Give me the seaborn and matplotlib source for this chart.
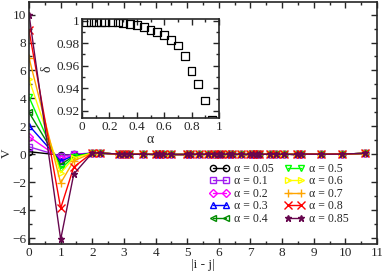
import numpy as np
import pandas as pd
import matplotlib
matplotlib.use("Agg")
import matplotlib.pyplot as plt
from matplotlib.ticker import MultipleLocator
import seaborn as sns

sns.set_style("ticks")
plt.rcParams["font.family"] = ["Liberation Serif", "DejaVu Serif"]

# distances |i - j|
dist = [0, 1, 1.414, 2, 2.236, 2.828, 3, 3.162, 3.606, 4, 4.123, 4.243, 4.472,
        5, 5.099, 5.385, 5.657, 5.831, 6, 6.083, 6.325, 6.403, 6.708, 7, 7.071,
        7.211, 7.28, 7.616, 7.81, 8.062, 8.485, 8.602, 9.22, 9.899, 10.63]

# common tail (|i-j| >= 2.8), all close to zero
tail = [0.03, 0.0, 0.01, 0.02, 0.0, 0.01, 0.02, 0.0, 0.0, 0.01, 0.02, 0.01,
        0.02, 0.0, 0.01, 0.01, 0.02, 0.01, 0.0, 0.0, 0.01, 0.01, 0.02, 0.0,
        0.02, 0.0, 0.03, 0.02, 0.03, 0.08]

alphas = ["0.05", "0.1", "0.2", "0.3", "0.4", "0.5", "0.6", "0.7", "0.8", "0.85"]

v_005 = [0.2, -0.05, 0.0, 0.08, 0.08] + tail
v_01 = [0.55, -0.12, 0.02, 0.1, 0.1] + tail
v_02 = [1.27, -0.3, -0.04, 0.1, 0.1] + tail
v_03 = [2.07, -0.48, -0.08, 0.1, 0.1] + tail
v_04 = [3.0, -0.72, -0.12, 0.1, 0.1] + tail
v_05 = [4.1, -1.03, -0.16, 0.1, 0.1] + tail
v_06 = [5.36, -1.32, -0.25, 0.1, 0.1] + tail
v_07 = [6.9, -2.04, -0.45, 0.1, 0.1] + tail
v_08 = [8.86, -3.84, -0.9, 0.12, 0.1] + tail
v_085 = [10.0, -6.07, -1.4, 0.12, 0.1] + tail
series = [v_005, v_01, v_02, v_03, v_04, v_05, v_06, v_07, v_08, v_085]

colors = ["black", "#a020f0", "#ff00ff", "#0000ff", "#008b00",
          "#00ff00", "#ffff00", "#ffa500", "#ff0000", "#67074e"]
markers = ["o", "s", "D", "^", "<", "v", ">", "+", "x", "*"]

# inset: delta vs alpha
inset_alpha = [0.03, 0.065, 0.1, 0.14, 0.17, 0.22, 0.26, 0.3, 0.35, 0.4, 0.45,
               0.5, 0.55, 0.6, 0.65, 0.7, 0.75, 0.8, 0.85, 0.9, 0.95]
inset_delta = [0.999, 0.999, 0.999, 0.999, 0.999, 0.9988, 0.9985, 0.998, 0.997,
               0.996, 0.9947, 0.992, 0.990, 0.987, 0.983, 0.978, 0.969, 0.955,
               0.944, 0.929, 0.912]

fig = plt.figure(figsize=(3.82, 2.73), dpi=100)
ax = fig.add_axes([0.076, 0.106, 0.911, 0.887])

for a, v, c, m in zip(alphas, series, colors, markers):
    df = pd.DataFrame({"d": dist, "v": v})
    filled = m in ["*"]
    sns.lineplot(
        data=df, x="d", y="v", ax=ax,
        color=c, marker=m, markersize=4.5 if m not in ["+", "x"] else 5.5,
        markerfacecolor=c if filled else "none",
        markeredgecolor=c, markeredgewidth=1.0,
        linewidth=1.0,
        label="α = " + a,
    )

ax.set_xlim(0, 11)
ax.set_ylim(-6.4, 10.9)
ax.xaxis.set_major_locator(MultipleLocator(1))
ax.xaxis.set_minor_locator(MultipleLocator(0.5))
ax.yaxis.set_major_locator(MultipleLocator(2))
ax.yaxis.set_minor_locator(MultipleLocator(1))
ax.tick_params(which="both", direction="in", top=True, right=True,
               labelsize=9.5, pad=2)
ax.tick_params(which="major", length=4, width=1)
ax.tick_params(which="minor", length=2, width=1)
for s in ax.spines.values():
    s.set_linewidth(1.2)
ax.set_xlabel("|i - j|", fontsize=9.5, labelpad=0)
ax.set_ylabel("V", fontsize=9.5)
ax.yaxis.set_label_coords(-0.046, 0.376)

ax.legend(ncol=2, loc="lower right", bbox_to_anchor=(0.94, 0.05),
          frameon=False, fontsize=8.5, numpoints=2, handlelength=1.7,
          handletextpad=0.4, labelspacing=0.04, columnspacing=0.9,
          borderpad=0.1)

ins = fig.add_axes([0.215, 0.568, 0.358, 0.362])
sns.scatterplot(x=inset_alpha, y=inset_delta, ax=ins, marker="s", s=32,
                facecolor="none", edgecolor="black", linewidth=0.9)
ins.set_xlim(0, 1)
ins.set_ylim(0.9135, 1.0015)
ins.xaxis.set_major_locator(MultipleLocator(0.2))
ins.xaxis.set_minor_locator(MultipleLocator(0.1))
ins.yaxis.set_major_locator(MultipleLocator(0.02))
ins.yaxis.set_minor_locator(MultipleLocator(0.01))
ins.xaxis.set_major_formatter(plt.FuncFormatter(lambda x, p: f"{x:g}"))
ins.yaxis.set_major_formatter(plt.FuncFormatter(lambda y, p: f"{y:g}"))
ins.tick_params(which="both", direction="in", top=True, right=True,
                labelsize=9.5, pad=2)
ins.tick_params(which="major", length=4, width=1)
ins.tick_params(which="minor", length=2, width=1)
for s in ins.spines.values():
    s.set_linewidth(1.2)
ins.set_xlabel("α", fontsize=10, labelpad=0)
ins.set_ylabel("δ", fontsize=10, labelpad=2)

fig.savefig("out.png", dpi=100)
